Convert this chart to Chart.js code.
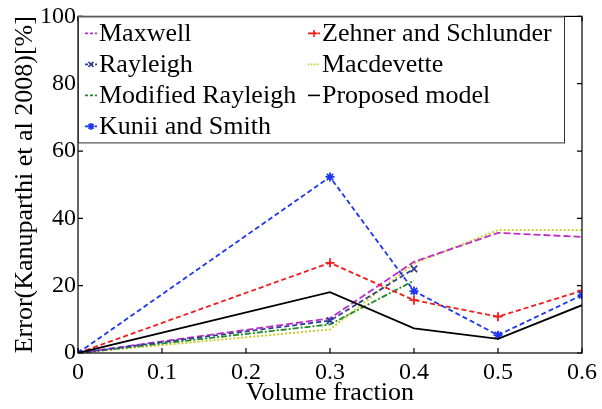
<!DOCTYPE html>
<html>
<head>
<meta charset="utf-8">
<script src="https://cdn.jsdelivr.net/npm/chart.js@4/dist/chart.umd.min.js"></script>
<style>
  html, body { margin: 0; padding: 0; background: #fff; }
  #wrap { width: 602px; height: 409px; }
</style>
</head>
<body>
<div id="wrap"><canvas id="errChart" width="602" height="409"></canvas></div>
<script>
// data
const volFrac      = [0, 0.3, 0.4, 0.5, 0.6];
const maxwell      = [0, 10.3, 27.1, 35.7, 34.5];
const rayleigh     = [0, 9.6, 25.0];          // stops at 0.4
const modRayleigh  = [0, 8.5, 21.5];          // stops at 0.4
const kunii        = [0, 52.3, 18.4, 5.3, 17.2];
const zehner       = [0, 26.8, 15.7, 10.8, 18.5];
const macdevette   = [0, 7.0, 26.6, 36.5, 36.5];
const proposed     = [0, 18.1, 7.3, 4.2, 14.2];
const xTicks = [0, 0.1, 0.2, 0.3, 0.4, 0.5, 0.6];
const yTicks = [0, 20, 40, 60, 80, 100];

const FONT = '"Liberation Serif", "Times New Roman", serif';

function pts(ys) {
    return ys.map((y, i) => ({ x: volFrac[i], y: y }));
}

function series(label, ys, color, dash, style, order) {
    return {
        label: label,
        data: pts(ys),
        borderColor: color,
        backgroundColor: color,
        borderWidth: 1.8,
        borderDash: dash,
        pointStyle: style || 'circle',
        pointRadius: style ? 4.5 : 0,
        pointBorderWidth: 1.8,
        pointBorderColor: color,
        fill: false,
        tension: 0,
        order: order
    };
}

const datasets = [
    series('Maxwell', maxwell, '#c02cc6', [7, 3], null, 5),
    series('Rayleigh', rayleigh, '#2c3e96', [5, 3], 'crossRot', 4),
    series('Modified Rayleigh', modRayleigh, '#1f8c1f', [6, 2, 2, 2], null, 6),
    series('Kunii and Smith', kunii, '#1c36f2', [5, 3], 'star', 2),
    series('Zehner and Schlunder', zehner, '#f31c1c', [5, 3], 'cross', 3),
    series('Macdevette', macdevette, '#c9c916', [2, 2], null, 7),
    series('Proposed model', proposed, '#000000', [], null, 1)
];

// frame, inward ticks and the two-column legend box
const framePlugin = {
    id: 'frame',
    afterDatasetsDraw(chart) {
        const ctx = chart.ctx;
        const a = chart.chartArea;
        const xs = chart.scales.x, ys = chart.scales.y;
        ctx.save();
        ctx.strokeStyle = '#000';
        ctx.lineWidth = 1.2;
        ctx.setLineDash([]);
        ctx.strokeRect(a.left, a.top, a.right - a.left, a.bottom - a.top);
        ctx.beginPath();
        xTicks.forEach(v => {
            const px = xs.getPixelForValue(v);
            ctx.moveTo(px, a.bottom); ctx.lineTo(px, a.bottom - 5);
            ctx.moveTo(px, a.top); ctx.lineTo(px, a.top + 5);
        });
        yTicks.forEach(v => {
            const py = ys.getPixelForValue(v);
            ctx.moveTo(a.left, py); ctx.lineTo(a.left + 5, py);
            ctx.moveTo(a.right, py); ctx.lineTo(a.right - 5, py);
        });
        ctx.stroke();

        // legend
        const lx = a.left, ly = a.top, lw = 486, lh = 126;
        ctx.fillStyle = '#fff';
        ctx.fillRect(lx, ly, lw, lh);
        ctx.strokeStyle = '#333';
        ctx.lineWidth = 1;
        ctx.strokeRect(lx + 0.5, ly + 0.5, lw, lh);

        const rowY = [17, 48, 79, 110];
        const colX = [7, 230];
        ctx.textBaseline = 'middle';
        ctx.textAlign = 'left';
        datasets.forEach((ds, i) => {
            const col = i < 4 ? 0 : 1;
            const row = i < 4 ? i : i - 4;
            const x0 = lx + colX[col], y0 = ly + rowY[row];
            ctx.strokeStyle = ds.borderColor;
            ctx.lineWidth = 1.6;
            ctx.setLineDash(ds.borderDash.length ? [3, 2] : []);
            if (ds.label === 'Macdevette') ctx.setLineDash([1.5, 1.5]);
            ctx.beginPath();
            ctx.moveTo(x0, y0); ctx.lineTo(x0 + 12, y0);
            ctx.stroke();
            ctx.setLineDash([]);
            if (ds.pointRadius > 0) {
                Chart.helpers.drawPoint(ctx, {
                    pointStyle: ds.pointStyle, radius: 3.5, borderWidth: 1.6
                }, x0 + 6, y0);
            }
            ctx.font = '26px ' + FONT;
            ctx.fillStyle = '#000';
            ctx.fillText(ds.label, x0 + 14, y0 + 1);
        });
        ctx.restore();
    }
};

const errChart = new Chart(document.getElementById('errChart'), {
    type: 'line',
    data: { datasets: datasets },
    options: {
        responsive: false,
        animation: false,
        layout: { padding: { top: 16, right: 18, left: 0, bottom: 0 } },
        plugins: { legend: { display: false }, tooltip: { enabled: false } },
        scales: {
            x: {
                type: 'linear',
                min: 0, max: 0.6,
                afterFit: s => { s.height = 56; },
                afterBuildTicks: s => { s.ticks = xTicks.map(v => ({ value: v })); },
                grid: { display: false, drawTicks: false },
                border: { display: false },
                ticks: {
                    color: '#000',
                    padding: 5,
                    font: { family: FONT, size: 24 },
                    callback: v => String(v)
                },
                title: {
                    display: true,
                    text: 'Volume fraction',
                    color: '#000',
                    padding: { top: 0, bottom: 0 },
                    font: { family: FONT, size: 26 }
                }
            },
            y: {
                min: 0, max: 100,
                afterFit: s => { s.width = 78; },
                afterBuildTicks: s => { s.ticks = yTicks.map(v => ({ value: v })); },
                grid: { display: false, drawTicks: false },
                border: { display: false },
                ticks: {
                    color: '#000',
                    padding: 2,
                    font: { family: FONT, size: 24 }
                },
                title: {
                    display: true,
                    text: 'Error(Kanuparthi et al 2008)[%]',
                    color: '#000',
                    padding: { top: 10, bottom: 0 },
                    font: { family: FONT, size: 26 }
                }
            }
        }
    },
    plugins: [framePlugin]
});
</script>
</body>
</html>
